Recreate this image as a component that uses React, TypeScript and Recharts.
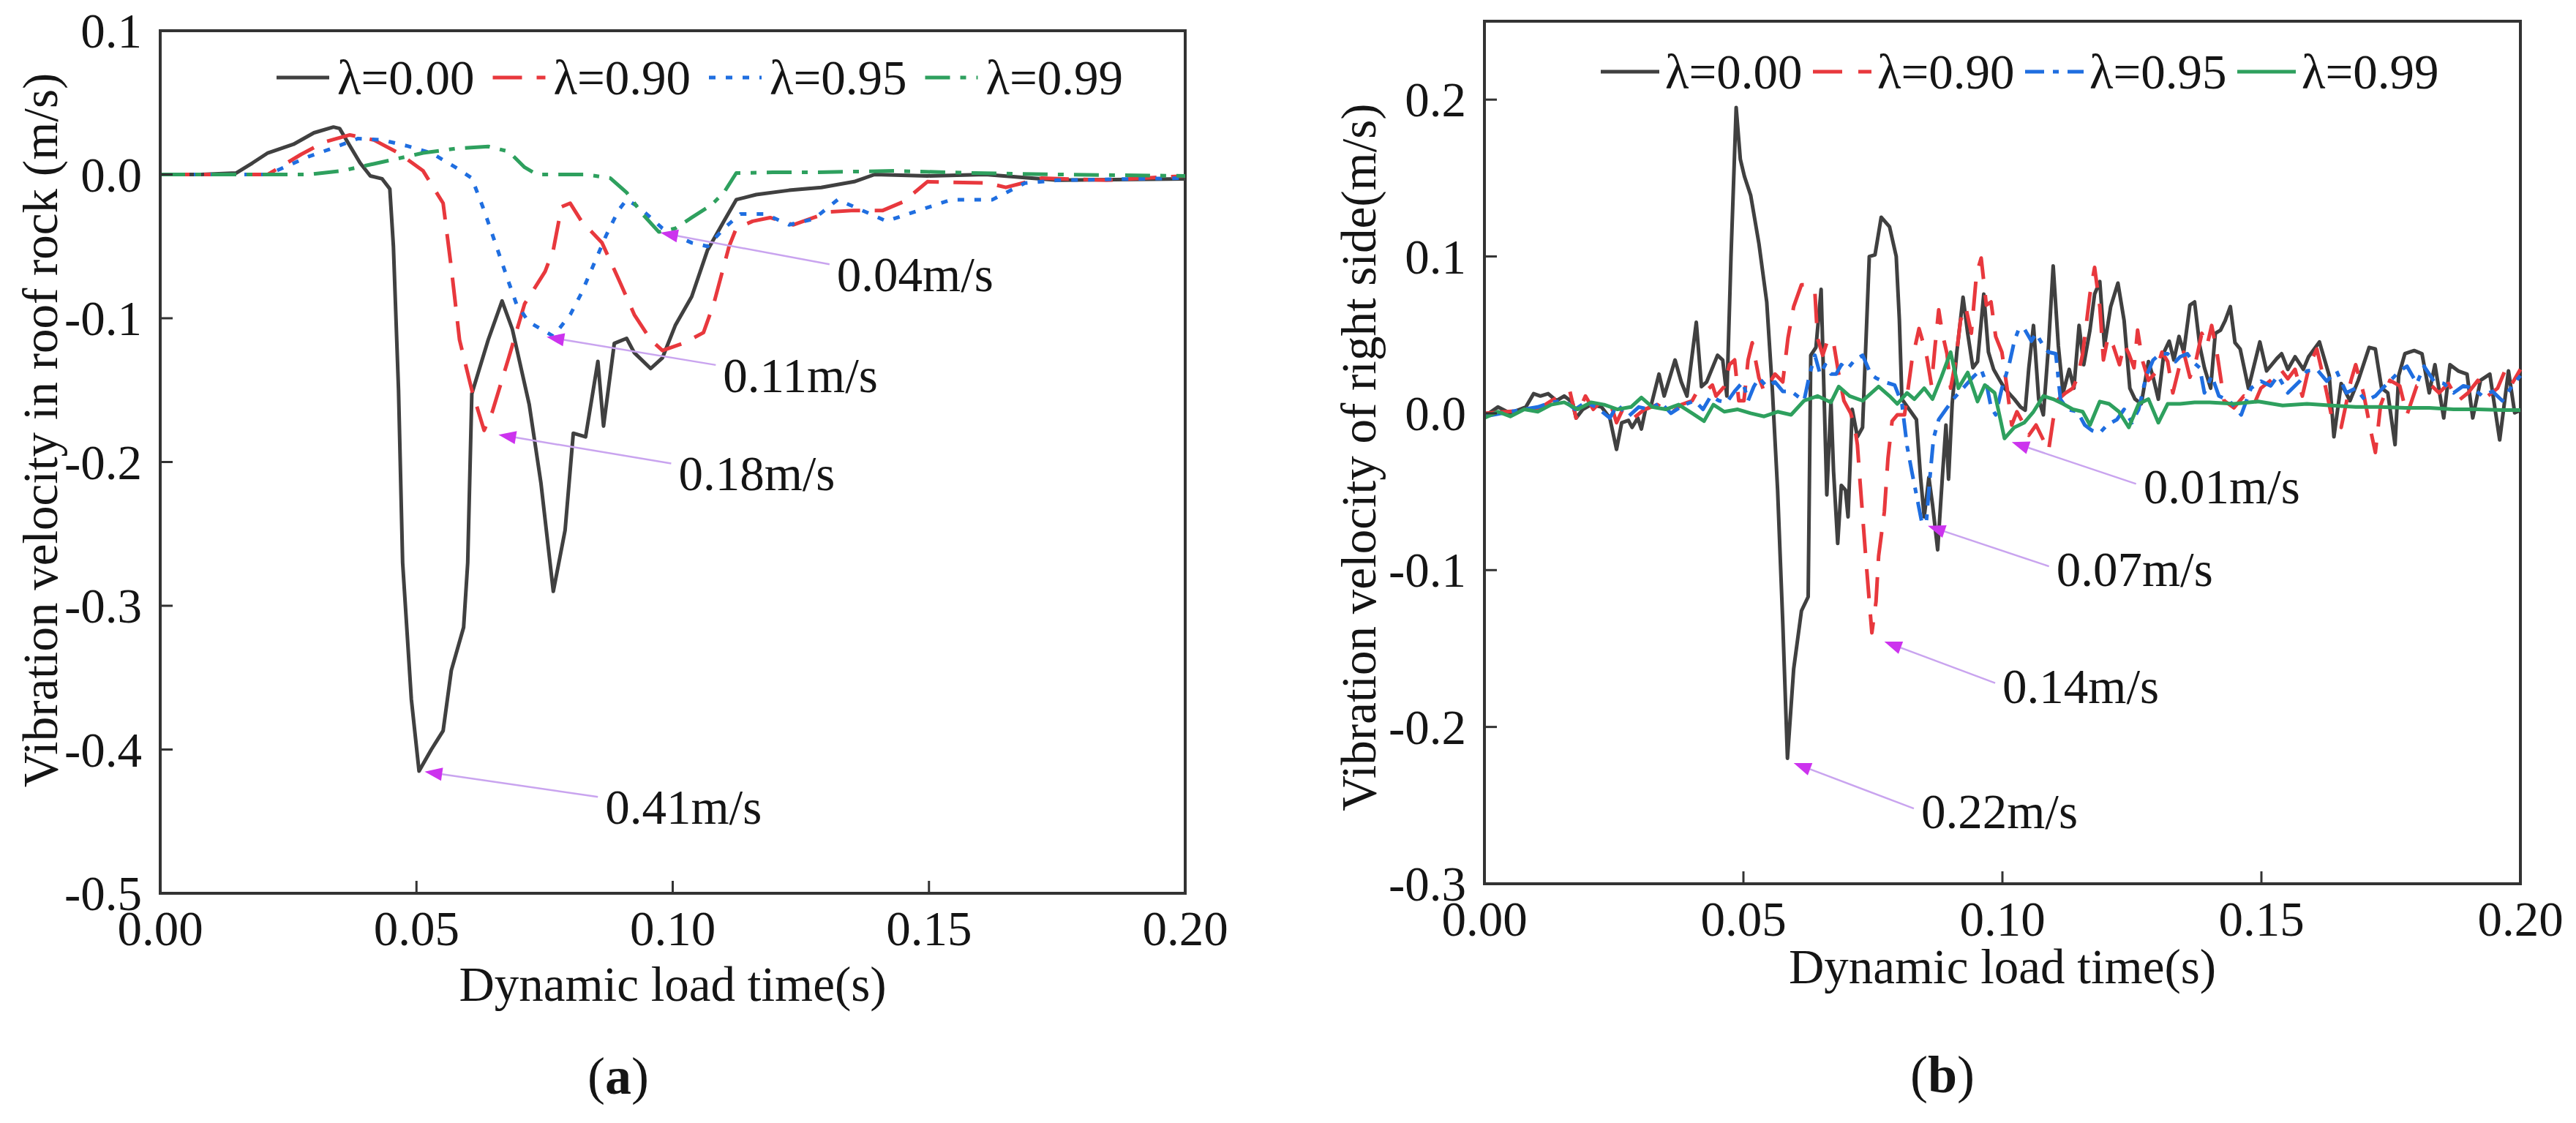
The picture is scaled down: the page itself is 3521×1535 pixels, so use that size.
import React from 'react';
import { LineChart, Line, XAxis, YAxis, ReferenceLine, ReferenceArea, Legend, Label } from 'recharts';

type Pt = [number, number];

// axis ticks and legend labels
const timeTicks = [0, 0.05, 0.1, 0.15, 0.2];
const roofTicks = [0.1, 0, -0.1, -0.2, -0.3, -0.4, -0.5];
const sideTicks = [0.2, 0.1, 0, -0.1, -0.2, -0.3];
const lambdaNames = ['λ=0.00', 'λ=0.90', 'λ=0.95', 'λ=0.99'];

// (a) roof rock, [time s, velocity m/s]
const roof000: Pt[] = [
  [0, 0], [0.008, 0], [0.0148, 0.001], [0.018, 0.008], [0.021, 0.015], [0.026, 0.021], [0.03, 0.029],
  [0.0338, 0.033], [0.035, 0.032], [0.037, 0.02], [0.039, 0.008], [0.041, -0.001], [0.0433, -0.003],
  [0.0448, -0.01], [0.0455, -0.05], [0.0465, -0.15], [0.0473, -0.27], [0.049, -0.365], [0.0505, -0.415],
  [0.0529, -0.4], [0.0552, -0.387], [0.0568, -0.345], [0.0592, -0.315], [0.06, -0.27], [0.0608, -0.1525],
  [0.064, -0.115], [0.0667, -0.088], [0.0687, -0.1075], [0.072, -0.16], [0.0743, -0.215], [0.0767, -0.29],
  [0.079, -0.2475], [0.0806, -0.18], [0.083, -0.1825], [0.0854, -0.13], [0.0865, -0.175], [0.0886, -0.1175],
  [0.091, -0.114], [0.0925, -0.124], [0.0957, -0.135], [0.098, -0.1275], [0.1005, -0.105], [0.1037, -0.085],
  [0.1068, -0.0525], [0.11, -0.0325], [0.1124, -0.0175], [0.1163, -0.014], [0.1227, -0.011], [0.129, -0.009],
  [0.1354, -0.005], [0.1394, 0], [0.1497, -0.001], [0.161, 0], [0.175, -0.004], [0.2, -0.003],
];
const roof090: Pt[] = [
  [0, 0], [0.021, 0], [0.0275, 0.014], [0.032, 0.0225], [0.037, 0.0275], [0.0417, 0.024], [0.0465, 0.015],
  [0.0513, 0.0025], [0.0552, -0.02], [0.0568, -0.065], [0.0584, -0.115], [0.0608, -0.15], [0.0632, -0.178],
  [0.0648, -0.165], [0.068, -0.1275], [0.0711, -0.09], [0.0751, -0.0675], [0.0767, -0.0525], [0.0783, -0.0225],
  [0.08, -0.02], [0.0822, -0.0325], [0.0862, -0.0475], [0.0894, -0.0725], [0.0925, -0.0975], [0.0957, -0.115],
  [0.098, -0.1225], [0.102, -0.1175], [0.106, -0.11], [0.108, -0.09], [0.111, -0.05], [0.1124, -0.0375],
  [0.1156, -0.0325], [0.119, -0.03], [0.1235, -0.035], [0.1275, -0.03], [0.1306, -0.026], [0.1354, -0.025],
  [0.141, -0.025], [0.145, -0.019], [0.1497, -0.005], [0.1616, -0.006], [0.165, -0.009], [0.172, -0.0025],
  [0.1846, -0.004], [0.2, -0.001],
];
const roof095: Pt[] = [
  [0, 0], [0.021, 0], [0.029, 0.0125], [0.033, 0.0175], [0.0386, 0.025], [0.0433, 0.024], [0.048, 0.02],
  [0.0529, 0.015], [0.0576, 0.005], [0.0608, -0.0025], [0.0632, -0.025], [0.0656, -0.05], [0.068, -0.075],
  [0.0695, -0.09], [0.0719, -0.1025], [0.0743, -0.1075], [0.0767, -0.1125], [0.08, -0.0975], [0.0822, -0.0825],
  [0.0846, -0.0625], [0.087, -0.0425], [0.0894, -0.025], [0.091, -0.0175], [0.0933, -0.0225], [0.0957, -0.03],
  [0.098, -0.0375], [0.1005, -0.0425], [0.1037, -0.0475], [0.1068, -0.05], [0.11, -0.0375], [0.1132, -0.0275],
  [0.118, -0.0275], [0.1227, -0.035], [0.1275, -0.031], [0.1322, -0.0175], [0.137, -0.025], [0.1417, -0.0325],
  [0.148, -0.025], [0.1544, -0.0175], [0.1624, -0.0175], [0.1687, -0.006], [0.175, -0.004], [0.2, -0.0025],
];
const roof099: Pt[] = [
  [0, 0], [0.029, 0], [0.0354, 0.0025], [0.0386, 0.005], [0.045, 0.01], [0.0513, 0.015], [0.0576, 0.018],
  [0.064, 0.0195], [0.068, 0.016], [0.0711, 0.005], [0.0735, 0], [0.083, 0], [0.0878, -0.0025], [0.091, -0.0125],
  [0.0941, -0.0275], [0.0973, -0.04], [0.1005, -0.0375], [0.1037, -0.03], [0.1076, -0.021], [0.11, -0.0125],
  [0.1124, 0.001], [0.1195, 0.0015], [0.1275, 0.0015], [0.1433, 0.0025], [0.159, 0.001], [0.175, 0], [0.2, -0.001],
];

// (b) right side, [time s, velocity m/s]
const side000: Pt[] = [
  [0, -0.002], [0.0026, 0.004], [0.005, 0], [0.008, 0.004], [0.0095, 0.0125], [0.0108, 0.011], [0.0123, 0.0125],
  [0.0139, 0.008], [0.0154, 0.011], [0.017, 0.007], [0.0177, -0.003], [0.019, 0.0025], [0.0206, 0.0055],
  [0.0226, 0.004], [0.0242, -0.003], [0.0255, -0.023], [0.0265, -0.006], [0.0278, -0.0045], [0.0285, -0.009],
  [0.0296, -0.003], [0.0303, -0.01], [0.0311, 0.0025], [0.0321, 0.004], [0.0337, 0.025], [0.0347, 0.011],
  [0.0368, 0.034], [0.038, 0.02], [0.0391, 0.011], [0.0409, 0.058], [0.0419, 0.017], [0.0429, 0.02],
  [0.045, 0.037], [0.046, 0.034], [0.0468, 0.011], [0.0476, 0.1], [0.0486, 0.195], [0.0494, 0.162],
  [0.0502, 0.151], [0.0514, 0.139], [0.053, 0.108], [0.0545, 0.071], [0.0556, 0.014], [0.0566, -0.049],
  [0.0576, -0.134], [0.0585, -0.22], [0.0597, -0.163], [0.0612, -0.126], [0.0625, -0.117], [0.063, 0.037],
  [0.064, 0.042], [0.065, 0.079], [0.0656, 0.008], [0.0661, -0.052], [0.0669, 0.008], [0.0674, -0.037],
  [0.0682, -0.083], [0.0689, -0.046], [0.0697, -0.049], [0.0702, -0.066], [0.071, 0.0025], [0.072, -0.015],
  [0.073, -0.009], [0.0743, 0.1], [0.0754, 0.101], [0.0766, 0.125], [0.0782, 0.119], [0.0795, 0.1],
  [0.0801, 0.06], [0.0806, 0.009], [0.082, 0.0025], [0.0834, -0.004], [0.0842, -0.041], [0.0849, -0.066],
  [0.0858, -0.041], [0.0865, -0.058], [0.0875, -0.087], [0.0884, -0.041], [0.0891, -0.0075], [0.0896, -0.042],
  [0.0903, 0.006], [0.0912, 0.039], [0.0924, 0.074], [0.0933, 0.051], [0.0943, 0.029], [0.0952, 0.033],
  [0.0964, 0.076], [0.0973, 0.039], [0.0983, 0.028], [0.0995, 0.021], [0.1004, 0.016], [0.1023, 0.009],
  [0.1035, 0.004], [0.1044, 0.002], [0.1051, 0.029], [0.106, 0.056], [0.107, 0.009], [0.1079, -0.001],
  [0.1089, 0.043], [0.1098, 0.094], [0.1108, 0.043], [0.1117, 0.013], [0.1129, 0.028], [0.1138, 0.016],
  [0.1148, 0.056], [0.1157, 0.031], [0.1169, 0.053], [0.1178, 0.076], [0.1188, 0.084], [0.1197, 0.043],
  [0.1209, 0.068], [0.1223, 0.083], [0.1235, 0.059], [0.1246, 0.016], [0.1256, 0.009], [0.1268, 0.006],
  [0.1282, 0.033], [0.1291, 0.023], [0.1301, 0.009], [0.1312, 0.039], [0.1322, 0.046], [0.1331, 0.034],
  [0.1341, 0.049], [0.135, 0.039], [0.1362, 0.069], [0.1371, 0.071], [0.1381, 0.043], [0.139, 0.029],
  [0.1402, 0.016], [0.1411, 0.051], [0.1421, 0.053], [0.143, 0.059], [0.144, 0.068], [0.1449, 0.045],
  [0.1459, 0.041], [0.1475, 0.016], [0.1497, 0.0455], [0.151, 0.027], [0.153, 0.035], [0.1539, 0.038],
  [0.1551, 0.028], [0.1565, 0.036], [0.1581, 0.028], [0.1591, 0.036], [0.1612, 0.0455], [0.1631, 0.024],
  [0.164, -0.015], [0.1654, 0.019], [0.1671, 0.008], [0.1687, 0.021], [0.1708, 0.042], [0.172, 0.041],
  [0.1732, 0.016], [0.1744, 0.013], [0.1758, -0.02], [0.1765, 0.024], [0.1777, 0.038], [0.1795, 0.04],
  [0.181, 0.038], [0.1824, 0.013], [0.1835, 0.031], [0.1852, -0.003], [0.1864, 0.031], [0.188, 0.027],
  [0.1897, 0.025], [0.1908, -0.003], [0.1923, 0.021], [0.1941, 0.025], [0.196, -0.017], [0.1977, 0.027],
  [0.1989, 0.0003], [0.2, 0.002],
];
const side090: Pt[] = [
  [0, 0], [0.0103, 0.0025], [0.0129, 0.008], [0.0165, 0.014], [0.0177, -0.003], [0.0195, 0.011], [0.021, 0.0025],
  [0.0226, 0.008], [0.0247, 0.0025], [0.0255, -0.006], [0.0267, 0.0025], [0.0288, -0.003], [0.0309, 0.0025],
  [0.0334, 0.0055], [0.036, 0], [0.038, 0.0055], [0.0401, 0.008], [0.0411, 0.014], [0.0427, 0.014], [0.044, 0.018],
  [0.0447, 0.011], [0.0463, 0.017], [0.0473, 0.031], [0.0483, 0.034], [0.0491, 0.008], [0.0501, 0.008],
  [0.0509, 0.034], [0.0517, 0.045], [0.053, 0.0225], [0.054, 0.014], [0.0561, 0.025], [0.0576, 0.02],
  [0.0586, 0.048], [0.0597, 0.068], [0.0612, 0.082], [0.0625, 0.082], [0.0638, 0.077], [0.0643, 0.048],
  [0.0653, 0.037], [0.0664, 0.048], [0.0674, 0.045], [0.0684, 0.025], [0.0694, 0.008], [0.0707, 0],
  [0.0715, -0.009], [0.072, -0.02], [0.0725, -0.043], [0.0736, -0.091], [0.0743, -0.12], [0.0748, -0.14],
  [0.0756, -0.12], [0.0761, -0.091], [0.0772, -0.063], [0.0779, -0.029], [0.0787, -0.005], [0.0797, -0.001],
  [0.0811, -0.001], [0.0825, 0.033], [0.0839, 0.054], [0.0853, 0.038], [0.0863, 0.018], [0.087, 0.043],
  [0.0877, 0.066], [0.0884, 0.051], [0.0893, 0.038], [0.09, 0.016], [0.091, 0.034], [0.0919, 0.059],
  [0.0929, 0.068], [0.094, 0.051], [0.095, 0.089], [0.0959, 0.099], [0.0969, 0.069], [0.0978, 0.071],
  [0.0987, 0.049], [0.0999, 0.039], [0.1009, 0.016], [0.1018, -0.0075], [0.1028, 0.001], [0.1042, -0.0075],
  [0.1051, -0.014], [0.1065, -0.0075], [0.1079, -0.017], [0.1089, -0.024], [0.1098, -0.004], [0.1108, 0.009],
  [0.1122, 0.013], [0.1136, 0.016], [0.1145, 0.023], [0.1155, 0.038], [0.1169, 0.076], [0.1178, 0.093],
  [0.1188, 0.068], [0.1195, 0.034], [0.1204, 0.049], [0.1214, 0.043], [0.1226, 0.031], [0.1235, 0.044],
  [0.1244, 0.038], [0.1254, 0.029], [0.1261, 0.053], [0.127, 0.034], [0.1282, 0.021], [0.1296, 0.026],
  [0.1308, 0.039], [0.1319, 0.033], [0.1329, 0.013], [0.1341, 0.029], [0.135, 0.039], [0.1362, 0.023],
  [0.1374, 0.034], [0.1385, 0.051], [0.1395, 0.043], [0.1404, 0.056], [0.1414, 0.039], [0.1428, 0.008],
  [0.1447, 0.0035], [0.1466, 0.011], [0.1485, 0.005], [0.1499, 0.016], [0.1518, 0.021], [0.1537, 0.028],
  [0.1551, 0.022], [0.1565, 0.028], [0.1579, 0.011], [0.1593, 0.031], [0.1607, 0.041], [0.1621, 0.021],
  [0.1635, -0.001], [0.1654, -0.009], [0.1673, 0.021], [0.1682, 0.031], [0.1697, 0.013], [0.1711, -0.011],
  [0.172, -0.025], [0.173, 0.005], [0.1748, 0.021], [0.1767, 0.0175], [0.1781, -0.001], [0.18, 0.0175],
  [0.1824, 0.019], [0.1843, 0.013], [0.1861, 0.019], [0.188, 0.008], [0.1899, 0.013], [0.1918, 0.021],
  [0.1937, 0.011], [0.1956, 0.016], [0.197, 0.027], [0.1984, 0.019], [0.2, 0.028],
];
const side095: Pt[] = [
  [0, -0.002], [0.005, 0.001], [0.0103, 0.004], [0.0129, 0.007], [0.0154, 0.008], [0.0175, 0.0025], [0.0195, 0.007],
  [0.0216, 0.004], [0.0242, -0.003], [0.0257, 0.0055], [0.0278, -0.002], [0.0298, 0.004], [0.0319, 0.0025],
  [0.034, 0.007], [0.036, 0], [0.0386, 0.0055], [0.0406, 0.008], [0.0422, 0.0025], [0.0437, 0.011], [0.0453, 0.008],
  [0.0468, 0.007], [0.0483, 0.014], [0.0499, 0.02], [0.0509, 0.008], [0.052, 0.017], [0.053, 0.0225], [0.0545, 0.017],
  [0.0561, 0.02], [0.0576, 0.014], [0.0592, 0.014], [0.0604, 0.011], [0.0617, 0.008], [0.0628, 0.025], [0.0638, 0.037],
  [0.0648, 0.025], [0.0658, 0.031], [0.0669, 0.025], [0.0679, 0.025], [0.0689, 0.031], [0.07, 0.028], [0.0715, 0.034],
  [0.073, 0.037], [0.0746, 0.025], [0.0756, 0.0225], [0.0772, 0.02], [0.0792, 0.018], [0.0806, 0.006],
  [0.0816, -0.021], [0.0825, -0.037], [0.0834, -0.052], [0.0844, -0.069], [0.0853, -0.07], [0.086, -0.041],
  [0.0867, -0.016], [0.0877, -0.004], [0.0891, 0.0025], [0.0905, 0.009], [0.0924, 0.016], [0.0943, 0.023],
  [0.0959, 0.028], [0.0969, 0.019], [0.0978, 0.004], [0.0987, -0.001], [0.0999, 0.016], [0.1013, 0.031],
  [0.1023, 0.046], [0.1032, 0.054], [0.1042, 0.054], [0.1056, 0.046], [0.1065, 0.051], [0.1079, 0.043],
  [0.1089, 0.039], [0.1103, 0.038], [0.1112, 0.009], [0.1126, 0.0025], [0.1145, 0.001], [0.1159, -0.0075],
  [0.1173, -0.011], [0.1188, -0.0125], [0.1202, -0.0075], [0.1221, -0.004], [0.1235, 0.0025], [0.125, -0.006],
  [0.1263, 0.0025], [0.1277, 0.023], [0.1291, 0.034], [0.1305, 0.038], [0.1319, 0.038], [0.1334, 0.033],
  [0.1343, 0.036], [0.1357, 0.038], [0.1367, 0.033], [0.1381, 0.029], [0.139, 0.013], [0.1404, 0.024],
  [0.1418, 0.011], [0.1438, 0.008], [0.1461, -0.001], [0.148, 0.016], [0.1499, 0.0205], [0.1518, 0.0175],
  [0.1532, 0.024], [0.1551, 0.013], [0.1574, 0.0205], [0.1588, 0.027], [0.1607, 0.028], [0.1626, 0.0205],
  [0.1645, 0.027], [0.1664, 0.013], [0.1682, 0.016], [0.1701, 0.008], [0.172, 0.011], [0.1734, 0.016],
  [0.1748, 0.0205], [0.1767, 0.027], [0.1781, 0.03], [0.18, 0.019], [0.1814, 0.03], [0.1833, 0.0205],
  [0.1852, 0.019], [0.1871, 0.013], [0.189, 0.0175], [0.1908, 0.016], [0.1927, 0.011], [0.1946, 0.014],
  [0.1965, 0.008], [0.1984, 0.0175], [0.2, 0.024],
];
const side099: Pt[] = [
  [0, -0.003], [0.0026, 0.001], [0.005, -0.002], [0.0077, 0.0025], [0.0103, 0.001], [0.0129, 0.0055], [0.0154, 0.007],
  [0.018, 0.0025], [0.0206, 0.007], [0.0231, 0.0055], [0.0257, 0.0025], [0.0283, 0.004], [0.0303, 0.01],
  [0.0324, 0.004], [0.035, 0.0025], [0.0375, 0.0055], [0.0401, 0], [0.0424, -0.005], [0.0442, 0.0055],
  [0.0463, 0.001], [0.0489, 0.0025], [0.0514, 0], [0.054, -0.002], [0.0566, 0.001], [0.0592, -0.001],
  [0.0617, 0.008], [0.0643, 0.011], [0.0669, 0.007], [0.0684, 0.017], [0.0705, 0.011], [0.073, 0.008],
  [0.0761, 0.017], [0.0782, 0.011], [0.0797, 0.006], [0.0816, 0.013], [0.083, 0.009], [0.0849, 0.016],
  [0.0865, 0.009], [0.0882, 0.023], [0.09, 0.039], [0.0915, 0.016], [0.0933, 0.026], [0.0952, 0.0075],
  [0.0966, 0.018], [0.0985, 0.013], [0.1004, -0.016], [0.1023, -0.009], [0.1042, -0.006], [0.106, 0.001],
  [0.1079, 0.011], [0.1098, 0.009], [0.1117, 0.006], [0.1136, 0.0025], [0.1155, 0.001], [0.1169, -0.0075],
  [0.1188, 0.0075], [0.1206, 0.006], [0.1225, 0.001], [0.1244, -0.009], [0.1263, 0.006], [0.1282, 0.009],
  [0.1301, -0.006], [0.1319, 0.006], [0.1343, 0.006], [0.1371, 0.007], [0.14, 0.007], [0.1447, 0.006],
  [0.1494, 0.0075], [0.1541, 0.005], [0.1588, 0.006], [0.1635, 0.005], [0.1682, 0.004], [0.173, 0.004],
  [0.1777, 0.0035], [0.1824, 0.0035], [0.1871, 0.0025], [0.1918, 0.0025], [0.1965, 0.002], [0.2, 0.002],
];

// peak call-outs: label, arrow tail (at the label) and tip (at the curve)
const roofPeaks = [
  { text: '0.41m/s', tail: [0.0854, -0.433], tip: [0.0516, -0.4154] },
  { text: '0.18m/s', tail: [0.0997, -0.201], tip: [0.066, -0.181] },
  { text: '0.11m/s', tail: [0.1084, -0.1325], tip: [0.0754, -0.113] },
  { text: '0.04m/s', tail: [0.1306, -0.0625], tip: [0.0976, -0.0405] },
];
const sidePeaks = [
  { text: '0.22m/s', tail: [0.0829, -0.252], tip: [0.0597, -0.223] },
  { text: '0.14m/s', tail: [0.0986, -0.172], tip: [0.0772, -0.1456] },
  { text: '0.07m/s', tail: [0.109, -0.0976], tip: [0.0856, -0.0718] },
  { text: '0.01m/s', tail: [0.1258, -0.045], tip: [0.1018, -0.0184] },
];

const FONT = '"Liberation Serif", "Times New Roman", serif';
const INK = '#151515';
const AXIS = '#333';
const FS = 67;

const toRows = (pts: Pt[]) => pts.map(([t, v]) => ({ t, v }));

const roofSeries = [
  { rows: toRows(roof000), color: '#404040', dash: undefined },
  { rows: toRows(roof090), color: '#e8383d', dash: '40 20' },
  { rows: toRows(roof095), color: '#1f6ee0', dash: '9 14' },
  { rows: toRows(roof099), color: '#2ea05e', dash: '34 14 8 14' },
];
const sideSeries = [
  { rows: toRows(side000), color: '#404040', dash: undefined },
  { rows: toRows(side090), color: '#e8383d', dash: '40 22' },
  { rows: toRows(side095), color: '#1f6ee0', dash: '26 12 8 12' },
  { rows: toRows(side099), color: '#2ea05e', dash: undefined },
];

const YTick = (props: any) => {
  const { x, y, payload } = props;
  return (
    <g>
      <line x1={x} y1={y} x2={x + 17} y2={y} stroke={AXIS} strokeWidth={3} />
      <text x={x - 25} y={y} textAnchor="end" dominantBaseline="central" fontFamily={FONT} fontSize={FS} fill={INK}>
        {Number(payload.value).toFixed(1)}
      </text>
    </g>
  );
};

const XTick = (props: any) => {
  const { x, y, payload } = props;
  return (
    <g>
      <line x1={x} y1={y} x2={x} y2={y - 17} stroke={AXIS} strokeWidth={3} />
      <text x={x} y={y + 48} textAnchor="middle" dominantBaseline="central" fontFamily={FONT} fontSize={FS} fill={INK}>
        {Number(payload.value).toFixed(2)}
      </text>
    </g>
  );
};

const arrowShape = (text: string, dy: number) => (p: any) => {
  const { x1, y1, x2, y2 } = p;
  const a = Math.atan2(y2 - y1, x2 - x1);
  const len = 24;
  const half = 9;
  const bx = x2 - len * Math.cos(a);
  const by = y2 - len * Math.sin(a);
  const nx = -Math.sin(a) * half;
  const ny = Math.cos(a) * half;
  return (
    <g>
      <line x1={x1} y1={y1} x2={bx} y2={by} stroke="#c9a4ef" strokeWidth={2.5} />
      <polygon points={`${x2},${y2} ${bx + nx},${by + ny} ${bx - nx},${by - ny}`} fill="#cc33ee" />
      <text x={x1 + 10} y={y1 + dy} dominantBaseline="central" fontFamily={FONT} fontSize={FS} fill={INK}>
        {text}
      </text>
    </g>
  );
};

const legendContent = (series: any[], x0: number, pitch: number, sym: number, gap: number, cy: number, w: number) => () => (
  <svg width={w} height={170} style={{ overflow: 'visible', display: 'block' }}>
    {series.map((s, i) => {
      const x = x0 + i * pitch;
      return (
        <g key={i}>
          <line x1={x} y1={cy} x2={x + sym} y2={cy} stroke={s.color} strokeWidth={5} strokeDasharray={s.dash} />
          <text x={x + sym + gap} y={cy} dominantBaseline="central" fontFamily={FONT} fontSize={FS} fill={INK}>
            {lambdaNames[i]}
          </text>
        </g>
      );
    })}
  </svg>
);

const Panel = (props: any) => {
  const { w, h, margin, xH, series, domain, yTicks, peaks, peakDy, yTitle, yTitleX, yTitleY, tag, tagX, tagY, legend } = props;
  return (
    <LineChart width={w} height={h} margin={margin}>
      <XAxis
        dataKey="t"
        type="number"
        domain={[0, 0.2]}
        ticks={timeTicks}
        height={xH}
        tickSize={0}
        tickMargin={0}
        tick={<XTick />}
        axisLine={{ stroke: AXIS, strokeWidth: 4 }}
        tickLine={false}
        interval={0}
      >
        <Label
          content={(lp: any) => {
            const vb = lp.viewBox;
            return (
              <text x={vb.x + vb.width / 2} y={vb.y + vb.height} textAnchor="middle" fontFamily={FONT} fontSize={FS} fill={INK}>
                Dynamic load time(s)
              </text>
            );
          }}
        />
        <Label
          content={() => (
            <text x={tagX} y={tagY} textAnchor="middle" dominantBaseline="central" fontFamily={FONT} fontSize={72} fill={INK}>
              <tspan>(</tspan>
              <tspan fontWeight="bold">{tag}</tspan>
              <tspan>)</tspan>
            </text>
          )}
        />
      </XAxis>
      <YAxis
        type="number"
        domain={domain}
        ticks={yTicks}
        width={150}
        tickSize={0}
        tickMargin={0}
        tick={<YTick />}
        axisLine={{ stroke: AXIS, strokeWidth: 4 }}
        tickLine={false}
        interval={0}
        allowDataOverflow
      >
        <Label
          content={() => (
            <text
              x={yTitleX}
              y={yTitleY}
              transform={`rotate(-90 ${yTitleX} ${yTitleY})`}
              textAnchor="middle"
              fontFamily={FONT}
              fontSize={FS}
              fill={INK}
            >
              {yTitle}
            </text>
          )}
        />
      </YAxis>
      <ReferenceArea x1={0} x2={0.2} y1={domain[0]} y2={domain[1]} fill="none" stroke={AXIS} strokeWidth={4} />
      {series.map((s: any, i: number) => (
        <Line
          key={i}
          data={s.rows}
          dataKey="v"
          name={lambdaNames[i]}
          type="linear"
          stroke={s.color}
          strokeWidth={5}
          strokeDasharray={s.dash}
          strokeLinejoin="round"
          dot={false}
          activeDot={false}
          isAnimationActive={false}
        />
      ))}
      {peaks.map((p: any) => (
        <ReferenceLine
          key={p.text}
          segment={[{ x: p.tail[0], y: p.tail[1] }, { x: p.tip[0], y: p.tip[1] }]}
          shape={arrowShape(p.text, peakDy)}
        />
      ))}
      <Legend
        layout="vertical"
        align="center"
        verticalAlign="middle"
        width={w}
        height={170}
        wrapperStyle={{ left: 0, top: 0 }}
        content={legend}
      />
    </LineChart>
  );
};

export default function App() {
  return (
    <div style={{ position: 'absolute', left: 0, top: 0, width: 3521, height: 1535, background: '#fff' }}>
      <div style={{ position: 'absolute', left: 0, top: 0 }}>
        <Panel
          w={1760}
          h={1535}
          margin={{ top: 42, right: 140, bottom: 167, left: 69 }}
          xH={147}
          series={roofSeries}
          domain={[-0.5, 0.1]}
          yTicks={roofTicks}
          peaks={roofPeaks}
          peakDy={14}
          yTitle="Vibration velocity in roof rock (m/s)"
          yTitleX={78}
          yTitleY={588}
          tag="a"
          tagX={845}
          tagY={1471}
          legend={legendContent(roofSeries, 378, 295.5, 72, 11, 106, 1760)}
        />
      </div>
      <div style={{ position: 'absolute', left: 1760, top: 0 }}>
        <Panel
          w={1761}
          h={1535}
          margin={{ top: 29, right: 76, bottom: 191, left: 119 }}
          xH={136}
          series={sideSeries}
          domain={[-0.3, 0.25]}
          yTicks={sideTicks}
          peaks={sidePeaks}
          peakDy={4}
          yTitle="Vibration velocity of right side(m/s)"
          yTitleX={120}
          yTitleY={625}
          tag="b"
          tagX={895}
          tagY={1469}
          legend={legendContent(sideSeries, 428, 290, 80, 8, 98, 1761)}
        />
      </div>
    </div>
  );
}
